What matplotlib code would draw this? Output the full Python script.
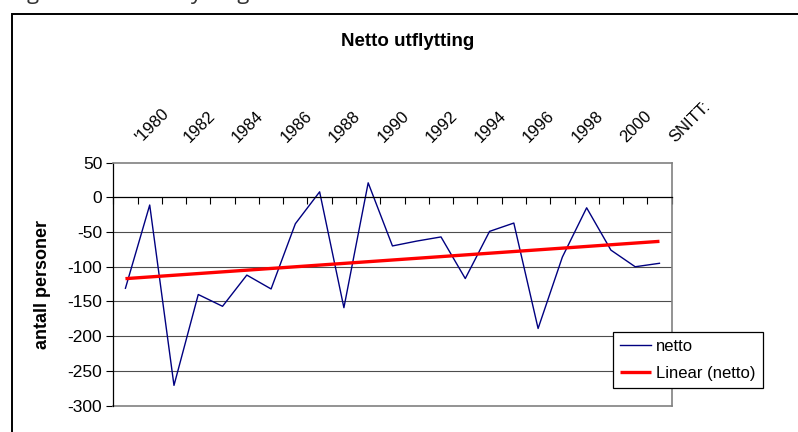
import numpy as np
import matplotlib
matplotlib.use("Agg")
import matplotlib.pyplot as plt
import matplotlib.patches as mpatches

plt.rcParams['font.family'] = ['Liberation Sans', 'DejaVu Sans']

# categories (22 years + average column)
categories = ["'1980", "1981", "1982", "1983", "1984", "1985", "1986", "1987",
              "1988", "1989", "1990", "1991", "1992", "1993", "1994", "1995",
              "1996", "1997", "1998", "1999", "2000", "2001", "SNITT:"]
netto = [-131, -11, -271, -140, -157, -112, -132, -38, 8, -159, 21, -70,
         -63, -57, -117, -49, -37, -189, -86, -15, -76, -100, -95]
y_ticks = [50, 0, -50, -100, -150, -200, -250, -300]

W, H = 798, 432
fig = plt.figure(figsize=(W / 100, H / 100), dpi=100)

# outer chart frame (runs off the right and bottom edge)
frame = mpatches.Rectangle((12 / W, -0.2), 1.2, 1.2 - 14 / H,
                           transform=fig.transFigure, fill=False,
                           edgecolor='black', lw=1.4)
fig.patches.append(frame)

# caption line above the frame, mostly outside the picture
fig.text(10 / W, 1 + 1 / H, "Figur 3: Netto utflytting", fontsize=16,
         family=['Open Sans', 'DejaVu Sans'], color='#333333',
         va='baseline', ha='left')

ax = fig.add_axes([113.3 / W, 1 - 405.5 / H, 558.3 / W, 242.8 / H])

n = len(categories)
x = np.arange(n) + 0.5
ax.plot(x, netto, color='#000080', lw=1.0, label='netto')

# linear trendline
coef = np.polyfit(x, netto, 1)
ax.plot([x[0], x[-1]], np.polyval(coef, [x[0], x[-1]]), color='#ff0000',
        lw=2.4, label='Linear (netto)', solid_capstyle='butt')

ax.set_xlim(0, n)
ax.set_ylim(-300, 50)
ax.set_yticks(y_ticks)
ax.set_yticklabels([str(v) for v in y_ticks], fontsize=12.5)
ax.tick_params(axis='y', direction='out', length=5, width=0.8, pad=3)

for v in y_ticks[1:-1]:
    if v != 0:
        ax.axhline(v, color='#4d4d4d', lw=0.8, zorder=0)

# x axis crosses at zero, ticks at category boundaries
ax.spines['bottom'].set_position(('data', 0))
ax.spines['bottom'].set_color('black')
ax.spines['bottom'].set_linewidth(0.9)
ax.set_xticks(np.arange(n + 1))
ax.set_xticklabels([])
ax.tick_params(axis='x', direction='out', length=5, width=0.8)

ax.spines['left'].set_color('black')
ax.spines['left'].set_linewidth(0.9)
ax.spines['top'].set_color('#808080')
ax.spines['right'].set_color('#808080')
ax.spines['top'].set_linewidth(1.2)
ax.spines['right'].set_linewidth(1.2)
# bottom edge of plot area at -300
ax.axhline(-300, color='#808080', lw=1.2, clip_on=False)

# category labels above the plot area, every other one
for i in range(0, n, 2):
    ax.annotate(categories[i], xy=(x[i], 1), xycoords=('data', 'axes fraction'),
                xytext=(5, 13), textcoords='offset points', rotation=45,
                ha='left', va='bottom', fontsize=12, annotation_clip=False)

ax.set_ylabel('antall personer', fontsize=13, fontweight='bold', va='center')
ax.yaxis.set_label_coords(-0.126, 0.5)

fig.text(408 / W, 1 - 42 / H, 'Netto utflytting', fontsize=13.5,
         fontweight='bold', ha='center', va='center')

leg = ax.legend(loc='upper left', bbox_to_anchor=(613 / W, 1 - 332 / H),
                bbox_transform=fig.transFigure, fancybox=False,
                edgecolor='black', framealpha=1, fontsize=12,
                borderaxespad=0, handlelength=1.9, borderpad=0.4,
                labelspacing=0.75, handletextpad=0.3)
leg.get_frame().set_linewidth(0.9)

fig.savefig('out.png', dpi=100)
